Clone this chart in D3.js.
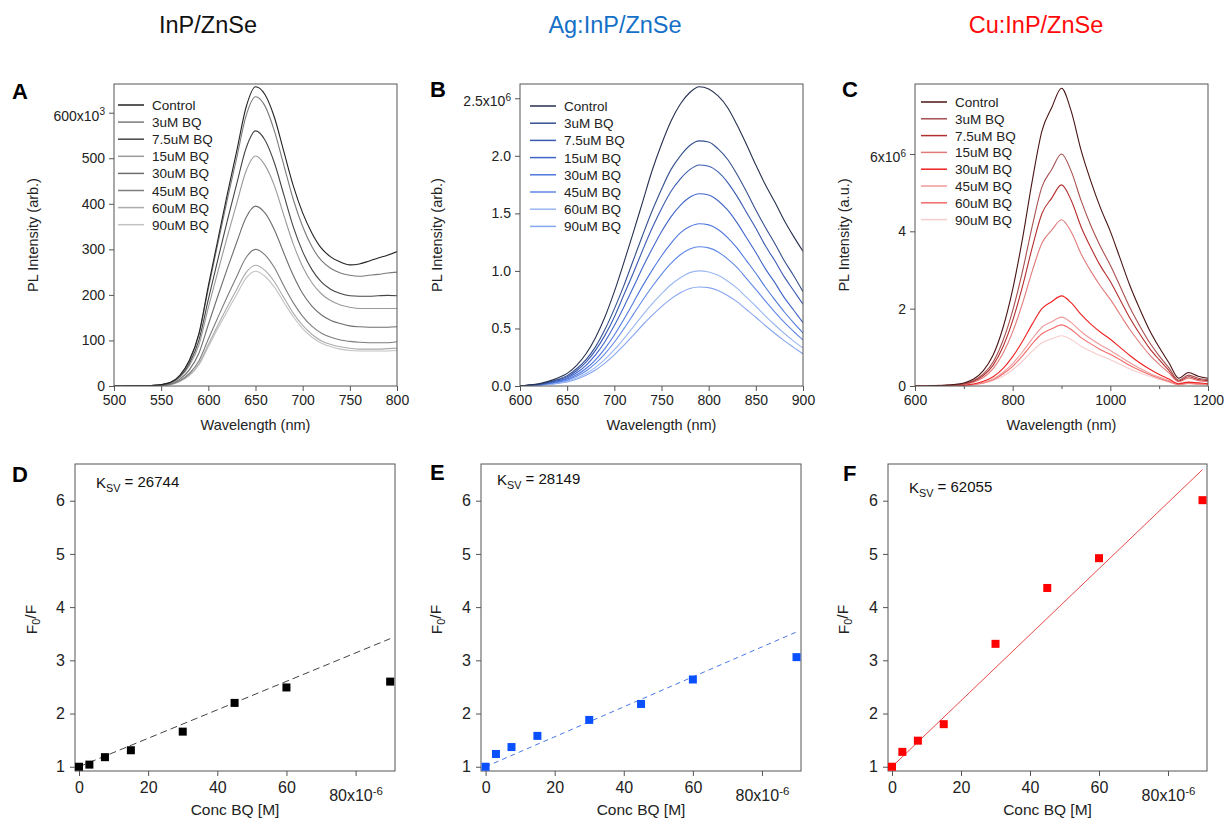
<!DOCTYPE html>
<html>
<head>
<meta charset="utf-8">
<script src="https://cdn.jsdelivr.net/npm/d3@7"></script>
<style>
body { margin: 0; background: #fff; }
svg { font-family: "Liberation Sans", Arial, sans-serif; }
</style>
</head>
<body>
<svg id="fig" width="1226" height="818"></svg>
<script>
// legend labels shared by the three spectra panels
var labels = ['Control', '3uM BQ', '7.5uM BQ', '15uM BQ', '30uM BQ', '45uM BQ', '60uM BQ', '90uM BQ']

// panel A: InP/ZnSe, PL intensity in units of 10^3
var wlA = [500,510,520,530,540,550,560,570,580,590,600,610,620,630,640,650,660,670,680,690,700,710,720,730,740,750,760,770,780,790,800]
var plA = [
  [0,0,0.3,0.6,1.2,3,8,24,57,115,220,320,420,515,612,657,640,590,515,440,380,335,302,283,272,266,268,274,281,287,295],
  [0,0,0.3,0.6,1.2,3,8,23,55,112,214,312,408,500,593,635,615,560,485,410,350,305,275,258,248,243,241,243,245,248,250],
  [0,0,0.3,0.5,1,2.5,7,21,50,100,190,277,362,443,522,560,540,490,420,350,295,255,228,212,203,198,197,197,198,199,198],
  [0,0,0.2,0.5,1,2.3,6,19,45,90,172,250,327,400,472,505,485,440,375,312,262,226,202,187,178,173,170,170,170,170,170],
  [0,0,0.2,0.4,0.8,1.8,5,15,36,72,135,197,257,315,370,395,380,343,292,243,203,175,156,144,137,132,130,129,129,129,130],
  [0,0,0.1,0.3,0.6,1.4,4,12,28,55,103,150,196,240,282,300,288,260,220,183,153,131,116,107,101,98,96,95,95,95,97],
  [0,0,0.1,0.3,0.5,1.2,3.5,11,25,49,91,133,173,212,249,265,254,229,194,160,133,113,99,91,86,83,81,81,81,82,83],
  [0,0,0.1,0.2,0.5,1.1,3,10,23,46,86,126,164,201,237,252,241,217,184,152,126,107,94,86,81,78,77,77,77,77,78]
]
var colorsA = ['#222222', '#7a7a7a', '#454545', '#9a9a9a', '#6e6e6e', '#7d7d7d', '#ababab', '#c2c2c2']

// panel B: Ag:InP/ZnSe, PL intensity in units of 10^6
var wlB = [600,610,620,630,640,650,660,670,680,690,700,710,720,730,740,750,760,770,780,790,800,810,820,830,840,850,860,870,880,890,900]
var plB = [
  [0,0.01,0.02,0.04,0.07,0.11,0.18,0.28,0.42,0.6,0.82,1.07,1.33,1.6,1.87,2.1,2.3,2.45,2.55,2.6,2.58,2.52,2.42,2.27,2.1,1.92,1.75,1.6,1.44,1.3,1.17],
  [0,0.008,0.016,0.033,0.057,0.09,0.15,0.23,0.34,0.49,0.67,0.87,1.09,1.31,1.52,1.71,1.88,2.0,2.09,2.13,2.12,2.06,1.97,1.84,1.69,1.53,1.38,1.24,1.09,0.96,0.82],
  [0,0.007,0.015,0.03,0.052,0.081,0.133,0.207,0.31,0.44,0.6,0.79,0.98,1.18,1.37,1.54,1.69,1.8,1.88,1.92,1.91,1.86,1.77,1.65,1.51,1.37,1.22,1.09,0.95,0.83,0.71],
  [0,0.006,0.013,0.026,0.045,0.07,0.115,0.18,0.27,0.385,0.525,0.685,0.855,1.03,1.19,1.34,1.47,1.57,1.64,1.67,1.66,1.61,1.53,1.42,1.29,1.16,1.02,0.9,0.77,0.66,0.55],
  [0,0.005,0.011,0.022,0.038,0.06,0.098,0.152,0.228,0.325,0.443,0.578,0.722,0.87,1.005,1.13,1.24,1.33,1.385,1.41,1.4,1.36,1.29,1.2,1.09,0.98,0.86,0.75,0.645,0.55,0.46],
  [0,0.004,0.009,0.019,0.033,0.051,0.084,0.13,0.196,0.28,0.38,0.496,0.62,0.745,0.862,0.97,1.065,1.14,1.19,1.21,1.2,1.165,1.105,1.03,0.935,0.84,0.74,0.645,0.555,0.475,0.4],
  [0,0.004,0.008,0.016,0.027,0.042,0.069,0.108,0.162,0.231,0.315,0.41,0.512,0.616,0.713,0.8,0.88,0.94,0.985,1.0,0.99,0.962,0.913,0.85,0.772,0.693,0.61,0.532,0.458,0.39,0.33],
  [0,0.003,0.007,0.013,0.023,0.036,0.059,0.093,0.139,0.199,0.271,0.353,0.44,0.53,0.613,0.69,0.757,0.81,0.847,0.86,0.855,0.83,0.787,0.733,0.665,0.597,0.526,0.458,0.394,0.336,0.28]
]
var colorsB = ['#263150', '#34508f', '#3a5ab2', '#4065c9', '#4f78de', '#5f88e8', '#9ab7f3', '#86a6f0']

// panel C: Cu:InP/ZnSe, PL intensity in units of 10^6
var wlC = [600,620,640,660,680,700,720,740,760,780,800,820,840,860,880,900,920,940,960,980,1000,1020,1040,1060,1080,1100,1120,1140,1160,1180,1200]
var plC = [
  [0,0,0.01,0.02,0.04,0.08,0.18,0.4,0.8,1.5,2.5,3.8,5.3,6.6,7.2,7.7,7.1,6.1,5.3,4.6,4.0,3.3,2.6,2.0,1.45,1.0,0.6,0.2,0.35,0.25,0.2],
  [0,0,0.01,0.02,0.03,0.06,0.14,0.31,0.62,1.17,1.95,2.96,4.13,5.15,5.6,6.0,5.55,4.8,4.15,3.6,3.12,2.58,2.03,1.56,1.13,0.78,0.47,0.15,0.28,0.2,0.16],
  [0,0,0.01,0.01,0.03,0.05,0.12,0.27,0.54,1.01,1.69,2.57,3.58,4.46,4.86,5.2,4.8,4.12,3.58,3.1,2.7,2.23,1.76,1.35,0.98,0.68,0.4,0.13,0.24,0.17,0.14],
  [0,0,0.01,0.01,0.02,0.04,0.1,0.22,0.45,0.84,1.4,2.13,2.97,3.7,4.03,4.3,3.98,3.42,2.97,2.58,2.24,1.85,1.46,1.12,0.81,0.56,0.34,0.11,0.2,0.14,0.11],
  [0,0,0,0.01,0.01,0.02,0.05,0.12,0.24,0.45,0.76,1.15,1.6,2.0,2.18,2.33,2.15,1.85,1.6,1.39,1.21,1.0,0.79,0.6,0.44,0.3,0.18,0.06,0.1,0.08,0.06],
  [0,0,0,0,0.01,0.02,0.04,0.09,0.18,0.35,0.58,0.88,1.22,1.52,1.66,1.78,1.64,1.41,1.22,1.06,0.92,0.76,0.6,0.46,0.33,0.23,0.14,0.05,0.08,0.06,0.05],
  [0,0,0,0,0.01,0.02,0.04,0.08,0.16,0.31,0.51,0.78,1.09,1.35,1.48,1.58,1.46,1.25,1.09,0.94,0.82,0.68,0.53,0.41,0.3,0.2,0.12,0.04,0.07,0.05,0.04],
  [0,0,0,0,0.01,0.01,0.03,0.07,0.14,0.25,0.42,0.64,0.9,1.12,1.22,1.3,1.2,1.03,0.9,0.78,0.68,0.56,0.44,0.34,0.25,0.17,0.1,0.03,0.06,0.04,0.03]
]
var colorsC = ['#4a1414', '#a85050', '#b52e2e', '#e27a7a', '#ee2222', '#f09a9a', '#f26a6a', '#f6cccc']

// Stern-Volmer panels: concentration in units of 10^-6 M
var conc = [0, 3, 7.5, 15, 30, 45, 60, 90]
var ratioD = [1.0, 1.04, 1.18, 1.31, 1.66, 2.2, 2.49, 2.6]
var ratioE = [1.0, 1.24, 1.37, 1.58, 1.88, 2.18, 2.64, 3.06]
var ratioF = [1.0, 1.28, 1.49, 1.8, 3.31, 4.36, 4.92, 6.01]
var ksv = [26744, 28149, 62055]

var titles = ['InP/ZnSe', 'Ag:InP/ZnSe', 'Cu:InP/ZnSe']
var titleColors = ['#111111', '#1570c8', '#ff0a0a']

var svg = d3.select('#fig')
var axisColor = '#555'

// column titles
svg.selectAll('.coltitle')
  .data(titles)
  .enter()
  .append('text')
  .attr('class', 'coltitle')
  .attr('x', function(d, i) { return [208, 615, 1036][i] })
  .attr('y', 33)
  .attr('text-anchor', 'middle')
  .attr('font-size', 23.5)
  .attr('fill', function(d, i) { return titleColors[i] })
  .text(function(d) { return d })

function panelLetter(ch, x, y) {
  svg.append('text')
    .attr('x', x).attr('y', y)
    .attr('font-size', 22).attr('font-weight', 'bold')
    .attr('fill', '#000')
    .text(ch)
}

function styleAxis(g) {
  g.select('.domain').remove()
  g.selectAll('.tick line').attr('stroke', axisColor)
  g.selectAll('.tick text').attr('fill', '#222')
}

// replace a tick label by "base x10^exp"
function expLabel(g, value, base, exp, dy) {
  g.selectAll('.tick')
    .filter(function(d) { return Math.abs(d - value) < 1e-9 })
    .select('text')
    .each(function() {
      var t = d3.select(this)
      t.text('')
      if (dy) t.attr('dy', dy)
      t.append('tspan').text(base + 'x10')
      t.append('tspan').attr('dy', '-0.55em').attr('font-size', '0.72em').text(exp)
    })
}

function spectrum(p) {
  var x = d3.scaleLinear().domain(p.xDom).range([p.l, p.r])
  var y = d3.scaleLinear().domain(p.yDom).range([p.b, p.t])
  var g = svg.append('g')

  var clipId = 'clip' + p.id
  g.append('clipPath').attr('id', clipId)
    .append('rect').attr('x', p.l).attr('y', p.t).attr('width', p.r - p.l).attr('height', p.b - p.t)

  var line = d3.line()
    .x(function(d) { return x(d[0]) })
    .y(function(d) { return y(d[1]) })
    .curve(d3.curveMonotoneX)

  // draw lowest curves first so the control sits on top
  var series = p.values.map(function(v, i) {
    return { i: i, pts: p.wl.map(function(w, k) { return [w, v[k]] }) }
  }).reverse()

  g.append('g').attr('clip-path', 'url(#' + clipId + ')')
    .selectAll('path')
    .data(series)
    .enter()
    .append('path')
    .attr('d', function(d) { return line(d.pts) })
    .attr('fill', 'none')
    .attr('stroke', function(d) { return p.colors[d.i] })
    .attr('stroke-width', 1.1)

  g.append('rect')
    .attr('x', p.l).attr('y', p.t)
    .attr('width', p.r - p.l).attr('height', p.b - p.t)
    .attr('fill', 'none').attr('stroke', axisColor).attr('stroke-width', 1)

  var xa = g.append('g').attr('transform', 'translate(0,' + p.b + ')')
    .call(d3.axisBottom(x).tickValues(p.xTicks).tickSize(5).tickPadding(4).tickFormat(d3.format('d')))
  styleAxis(xa)
  xa.selectAll('text').attr('font-size', 14)
  if (p.xMinor) {
    var xm = g.append('g').attr('transform', 'translate(0,' + p.b + ')')
      .call(d3.axisBottom(x).tickValues(p.xMinor).tickSize(3).tickFormat(''))
    styleAxis(xm)
  }

  var ya = g.append('g').attr('transform', 'translate(' + p.l + ',0)')
    .call(d3.axisLeft(y).tickValues(p.yTicks).tickSize(5).tickPadding(4).tickFormat(p.yFmt))
  styleAxis(ya)
  ya.selectAll('text').attr('font-size', 14)
  expLabel(ya, p.yTop, p.yTopBase, p.yExp, '0.55em')

  g.append('text')
    .attr('x', (p.l + p.r) / 2).attr('y', 430)
    .attr('text-anchor', 'middle').attr('font-size', 14.5).attr('fill', '#222')
    .text('Wavelength (nm)')

  g.append('text')
    .attr('transform', 'translate(' + p.yLabX + ',' + ((p.t + p.b) / 2) + ') rotate(-90)')
    .attr('text-anchor', 'middle').attr('font-size', 14.5).attr('fill', '#222')
    .text(p.yLabel)

  // legend
  var lg = g.append('g')
  labels.forEach(function(lab, i) {
    var yy = p.legY + i * p.legStep
    lg.append('line')
      .attr('x1', p.legX).attr('x2', p.legX + 26)
      .attr('y1', yy).attr('y2', yy)
      .attr('stroke', p.colors[i]).attr('stroke-width', 1.5)
    lg.append('text')
      .attr('x', p.legX + 34).attr('y', yy + 5)
      .attr('font-size', 13.5).attr('fill', '#222')
      .text(lab)
  })
}

function sternVolmer(p) {
  var x = d3.scaleLinear().domain(p.xDom).range([p.l, p.r])
  var y = d3.scaleLinear().domain([0.92, 6.69]).range([p.b, p.t])
  var g = svg.append('g')

  g.append('rect')
    .attr('x', p.l).attr('y', p.t)
    .attr('width', p.r - p.l).attr('height', p.b - p.t)
    .attr('fill', 'none').attr('stroke', axisColor).attr('stroke-width', 1)

  // linear fit F0/F = 1 + Ksv [Q]
  g.append('line')
    .attr('x1', x(0)).attr('y1', y(1))
    .attr('x2', x(90)).attr('y2', y(1 + p.k * 90e-6))
    .attr('stroke', p.lineColor).attr('stroke-width', 1)
    .attr('stroke-dasharray', p.dash)

  var pts = conc.map(function(c, i) { return [c, p.values[i]] })
  g.selectAll('rect.pt')
    .data(pts)
    .enter()
    .append('rect')
    .attr('class', 'pt')
    .attr('x', function(d) { return x(d[0]) - 4 })
    .attr('y', function(d) { return y(d[1]) - 4 })
    .attr('width', 8).attr('height', 8)
    .attr('fill', p.color)

  var xa = g.append('g').attr('transform', 'translate(0,' + p.b + ')')
    .call(d3.axisBottom(x).tickValues([0, 20, 40, 60, 80]).tickSize(5).tickPadding(6).tickFormat(d3.format('d')))
  styleAxis(xa)
  xa.selectAll('text').attr('font-size', 16)
  expLabel(xa, 80, '80', '-6', '1.2em')

  var ya = g.append('g').attr('transform', 'translate(' + p.l + ',0)')
    .call(d3.axisLeft(y).tickValues([1, 2, 3, 4, 5, 6]).tickSize(5).tickPadding(5).tickFormat(d3.format('d')))
  styleAxis(ya)
  ya.selectAll('text').attr('font-size', 16)

  g.append('text')
    .attr('x', (p.l + p.r) / 2).attr('y', 815)
    .attr('text-anchor', 'middle').attr('font-size', 15.5).attr('fill', '#222')
    .text('Conc BQ [M]')

  var yl = g.append('text')
    .attr('transform', 'translate(' + p.yLabX + ',' + ((p.t + p.b) / 2 + 2) + ') rotate(-90)')
    .attr('text-anchor', 'middle').attr('font-size', 15.5).attr('fill', '#222')
  yl.append('tspan').text('F')
  yl.append('tspan').attr('dy', '0.3em').attr('font-size', '0.7em').text('0')
  yl.append('tspan').attr('dy', '-0.3em').text('/F')

  var kt = g.append('text')
    .attr('x', p.kx).attr('y', p.ky)
    .attr('font-size', 15).attr('fill', '#111')
  kt.append('tspan').text('K')
  kt.append('tspan').attr('dy', '0.35em').attr('font-size', '0.72em').text('SV')
  kt.append('tspan').attr('dy', '-0.35em').text(' = ' + p.k)
}

spectrum({ id: 'A', wl: wlA, values: plA, colors: colorsA,
  l: 114, r: 397, t: 84, b: 386, xDom: [500, 800], yDom: [0, 663],
  xTicks: [500, 550, 600, 650, 700, 750, 800], yTicks: [0, 100, 200, 300, 400, 500, 600],
  yFmt: d3.format('d'), yTop: 600, yTopBase: '600', yExp: '3',
  yLabel: 'PL Intensity (arb.)', yLabX: 38, legX: 118, legY: 105, legStep: 17.1 })

spectrum({ id: 'B', wl: wlB, values: plB, colors: colorsB,
  l: 520, r: 803, t: 84, b: 386, xDom: [600, 900], yDom: [0, 2.624],
  xTicks: [600, 650, 700, 750, 800, 850, 900], yTicks: [0, 0.5, 1, 1.5, 2, 2.5],
  yFmt: d3.format('.1f'), yTop: 2.5, yTopBase: '2.5', yExp: '6',
  yLabel: 'PL Intensity (arb.)', yLabX: 442, legX: 530, legY: 106, legStep: 17.2 })

spectrum({ id: 'C', wl: wlC, values: plC, colors: colorsC,
  l: 915, r: 1208, t: 84, b: 386, xDom: [600, 1200], yDom: [0, 7.81],
  xTicks: [600, 800, 1000, 1200], xMinor: [700, 900, 1100], yTicks: [0, 2, 4, 6],
  yFmt: d3.format('d'), yTop: 6, yTopBase: '6', yExp: '6',
  yLabel: 'PL Intensity (a.u.)', yLabX: 849, legX: 921, legY: 102, legStep: 16.8 })

sternVolmer({ values: ratioD, k: ksv[0], color: '#000', lineColor: '#444', dash: '7,4',
  l: 75, r: 395, t: 464, b: 771, xDom: [-1.16, 91.4], yLabX: 37, kx: 96, ky: 488 })
sternVolmer({ values: ratioE, k: ksv[1], color: '#0a50ff', lineColor: '#4a78e8', dash: '5,4',
  l: 481, r: 801, t: 464, b: 771, xDom: [-1.33, 91.3], yLabX: 442, kx: 497, ky: 485 })
sternVolmer({ values: ratioF, k: ksv[2], color: '#ff0000', lineColor: '#e84848', dash: null,
  l: 888, r: 1207, t: 464, b: 771, xDom: [-1.16, 91.3], yLabX: 849, kx: 909, ky: 493 })

panelLetter('A', 12, 99)
panelLetter('B', 430, 97)
panelLetter('C', 842, 97)
panelLetter('D', 12, 482)
panelLetter('E', 430, 480)
panelLetter('F', 843, 481)
</script>
</body>
</html>
